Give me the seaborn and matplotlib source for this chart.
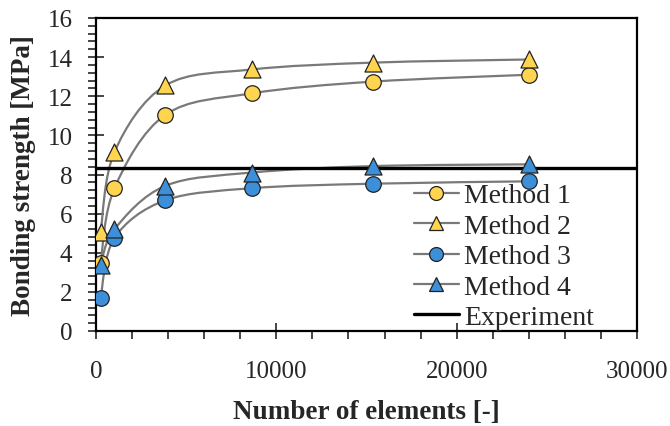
import numpy as np
import pandas as pd
import matplotlib
matplotlib.use("Agg")
import matplotlib.pyplot as plt
from matplotlib.path import Path
from matplotlib.patches import PathPatch
from matplotlib.lines import Line2D
from matplotlib.ticker import MultipleLocator
import seaborn as sns

# data
elements = [256, 1024, 3844, 8649, 15376, 24025]
method1 = [3.5, 7.3, 11.05, 12.15, 12.75, 13.1]
method2 = [5.05, 9.15, 12.55, 13.37, 13.72, 13.88]
method3 = [1.7, 4.75, 6.68, 7.3, 7.53, 7.65]
method4 = [3.35, 5.2, 7.42, 8.1, 8.43, 8.52]
experiment = 8.33

names = ["Method 1", "Method 2", "Method 3", "Method 4"]
series = [method1, method2, method3, method4]
colors = ["#FFD54F", "#FFD54F", "#3C8FD8", "#3C8FD8"]
markers = ["o", "^", "o", "^"]
msizes = [125, 150, 125, 150]

df = pd.DataFrame({"x": elements * 4,
                   "y": method1 + method2 + method3 + method4,
                   "method": sum([[n] * len(elements) for n in names], [])})

sns.set_style("ticks")
plt.rcParams["font.family"] = ["Liberation Serif", "DejaVu Serif"]

fig = plt.figure(figsize=(6.7, 4.27), dpi=100)
ax = fig.add_axes([96 / 670, 1 - 332 / 427, (637 - 96) / 670, (332 - 19) / 427])
ax.set_xlim(0, 30000)
ax.set_ylim(0, 16)

line_col = "#7b7878"


def smooth_path(xs, ys):
    # Excel-style smoothed line: Catmull-Rom turned into cubic Bezier segments
    pts = np.column_stack([xs, ys]).astype(float)
    n = len(pts)
    verts = [pts[0]]
    codes = [Path.MOVETO]
    for i in range(n - 1):
        p0 = pts[i - 1] if i > 0 else pts[i]
        p1 = pts[i]
        p2 = pts[i + 1]
        p3 = pts[i + 2] if i + 2 < n else pts[i + 1]
        c1 = p1 + (p2 - p0) / 6.0
        c2 = p2 - (p3 - p1) / 6.0
        verts += [c1, c2, p2]
        codes += [Path.CURVE4] * 3
    return Path(verts, codes)


for vals in series:
    # smoothing done in axes-proportional units, then mapped back to data
    sx = np.array(elements) / 30000.0 * 5.41
    sy = np.array(vals) / 16.0 * 3.13
    p = smooth_path(sx, sy)
    v = p.vertices.copy()
    v[:, 0] = v[:, 0] / 5.41 * 30000.0
    v[:, 1] = v[:, 1] / 3.13 * 16.0
    ax.add_patch(PathPatch(Path(v, p.codes), fill=False, edgecolor=line_col, lw=1.6, zorder=2))

ax.axhline(experiment, color="black", lw=2.4, zorder=3)

for n, c, m, s in zip(names, colors, markers, msizes):
    sns.scatterplot(data=df[df["method"] == n], x="x", y="y", color=c, marker=m,
                    s=s, edgecolor="#222222", linewidth=0.9, legend=False, ax=ax, zorder=4)

handles = [Line2D([0], [0], color=line_col, lw=1.6, marker=m, markersize=10,
                  markerfacecolor=c, markeredgecolor="#222222", markeredgewidth=0.9)
           for m, c in zip(markers, colors)]
handles.append(Line2D([0], [0], color="black", lw=2.4))
ax.legend(handles, names + ["Experiment"], loc="lower left", bbox_to_anchor=(0.578, -0.015),
          frameon=False, fontsize=20, handlelength=1.6, handletextpad=0.2,
          labelspacing=0.18, borderaxespad=0, borderpad=0.2)

ax.xaxis.set_major_locator(MultipleLocator(10000))
ax.xaxis.set_minor_locator(MultipleLocator(2000))
ax.yaxis.set_major_locator(MultipleLocator(2))
ax.yaxis.set_minor_locator(MultipleLocator(0.4))
ax.tick_params(which="major", direction="inout", length=12, width=1.2, labelsize=18)
ax.tick_params(which="minor", direction="out", length=5.5, width=1.2)
ax.tick_params(axis="y", which="major", pad=11)
ax.tick_params(axis="x", which="major", pad=15)

for sp in ax.spines.values():
    sp.set_linewidth(1.6)
    sp.set_color("black")

ax.set_xlabel("Number of elements [-]", fontsize=19.5, fontweight="bold", labelpad=12)
ax.set_ylabel("Bonding strength [MPa]", fontsize=19.5, fontweight="bold", labelpad=8)

fig.savefig("out.png", dpi=100)
